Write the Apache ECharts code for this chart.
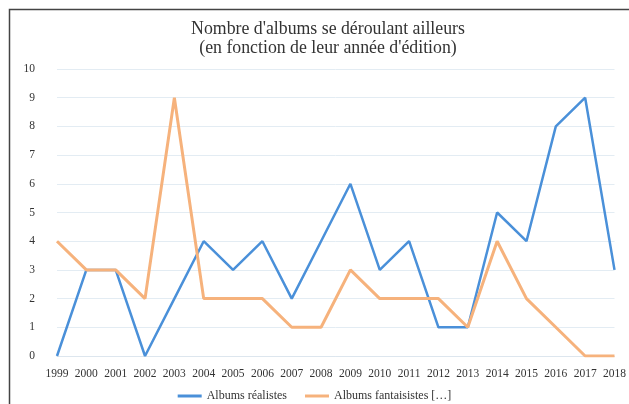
<!DOCTYPE html>
<html><head><meta charset="utf-8">
<script src="https://cdn.jsdelivr.net/npm/echarts@6/dist/echarts.min.js"></script>
<style>html,body{margin:0;padding:0;background:#fff}#c{width:629px;height:404px}</style>
</head><body><div id="c"></div>
<script>
var years = ['1999','2000','2001','2002','2003','2004','2005','2006','2007','2008','2009','2010','2011','2012','2013','2014','2015','2016','2017','2018'];
var realistes = [0,3,3,0,2,4,3,4,2,4,6,3,4,1,1,5,4,8,9,3];
var fantaisistes = [4,3,3,2,9,2,2,2,1,1,3,2,2,2,1,4,2,1,0,0];
var titleText = "Nombre d'albums se déroulant ailleurs\n(en fonction de leur année d'édition)";
var chart = echarts.init(document.getElementById('c'));
var font = 'Liberation Serif';
chart.setOption({
  animation:false,
  textStyle:{fontFamily:font},
  graphic:[
    {type:'rect',shape:{x:9.5,y:9.5,width:700,height:500},style:{fill:'none',stroke:'#444',lineWidth:1.5},silent:true},
    {type:'text',x:328,y:20,silent:true,style:{text:titleText,align:'center',verticalAlign:'top',
      fontFamily:font,fontSize:17.8,lineHeight:19,fill:'#333'}}
  ],
  legend:{top:390,padding:0,itemWidth:24,itemHeight:3,itemGap:18,icon:'rect',
    textStyle:{fontFamily:font,fontSize:12,color:'#333'},
    data:['Albums réalistes','Albums fantaisistes […]']},
  grid:{left:57,right:10,top:69,bottom:48},
  xAxis:{type:'category',data:years,boundaryGap:false,
    axisLine:{lineStyle:{color:'#dde6ee'}},axisTick:{show:false},
    axisLabel:{fontFamily:font,fontSize:11.5,color:'#333',margin:12,interval:0}},
  yAxis:{type:'value',min:0,max:10,interval:1,
    axisLine:{show:false},axisTick:{show:false},
    axisLabel:{fontFamily:font,fontSize:11.5,color:'#333',margin:22},
    splitLine:{lineStyle:{color:'#e3ecf3'}}},
  series:[
    {name:'Albums réalistes',type:'line',data:realistes,symbol:'none',lineStyle:{color:'#4a90d9',width:2.5},itemStyle:{color:'#4a90d9'}},
    {name:'Albums fantaisistes […]',type:'line',data:fantaisistes,symbol:'none',lineStyle:{color:'#f6b27c',width:3},itemStyle:{color:'#f6b27c'}}
  ]
});
</script></body></html>
